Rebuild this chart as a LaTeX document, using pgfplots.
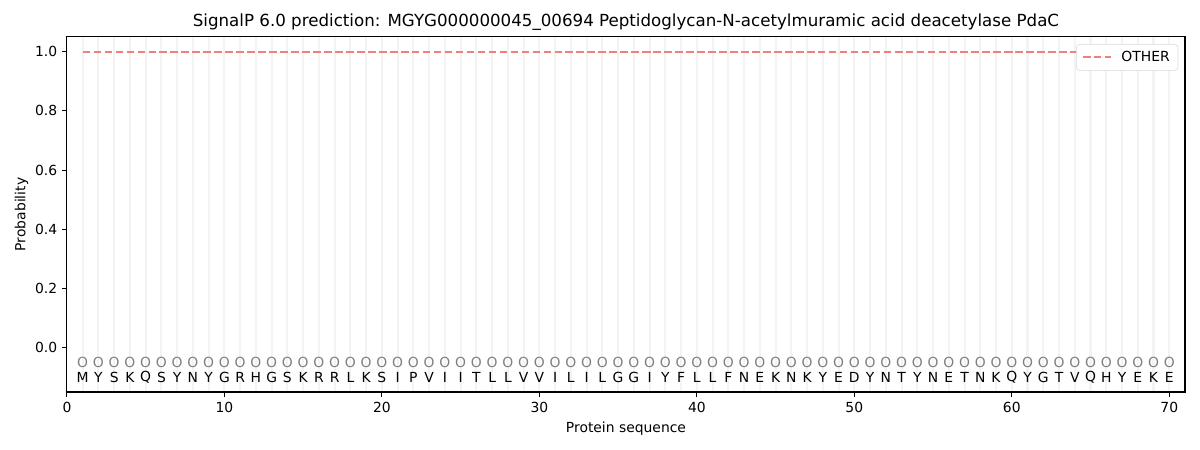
\documentclass[border=0pt]{standalone}
\usepackage{fontspec}
\setmainfont{DejaVu Sans}
\usepackage{pgfplots}
\usepackage{pgfplotstable}
\pgfplotsset{compat=1.18}
\definecolor{otherred}{RGB}{240,128,128}
\definecolor{ogray}{RGB}{128,128,128}
\definecolor{gridgray}{RGB}{243,243,243}
\pgfplotstableread{
x yo ya p aa
1 -0.05 -0.1 1.0 M
2 -0.05 -0.1 1.0 Y
3 -0.05 -0.1 1.0 S
4 -0.05 -0.1 1.0 K
5 -0.05 -0.1 1.0 Q
6 -0.05 -0.1 1.0 S
7 -0.05 -0.1 1.0 Y
8 -0.05 -0.1 1.0 N
9 -0.05 -0.1 1.0 Y
10 -0.05 -0.1 1.0 G
11 -0.05 -0.1 1.0 R
12 -0.05 -0.1 1.0 H
13 -0.05 -0.1 1.0 G
14 -0.05 -0.1 1.0 S
15 -0.05 -0.1 1.0 K
16 -0.05 -0.1 1.0 R
17 -0.05 -0.1 1.0 R
18 -0.05 -0.1 1.0 L
19 -0.05 -0.1 1.0 K
20 -0.05 -0.1 1.0 S
21 -0.05 -0.1 1.0 I
22 -0.05 -0.1 1.0 P
23 -0.05 -0.1 1.0 V
24 -0.05 -0.1 1.0 I
25 -0.05 -0.1 1.0 I
26 -0.05 -0.1 1.0 T
27 -0.05 -0.1 1.0 L
28 -0.05 -0.1 1.0 L
29 -0.05 -0.1 1.0 V
30 -0.05 -0.1 1.0 V
31 -0.05 -0.1 1.0 I
32 -0.05 -0.1 1.0 L
33 -0.05 -0.1 1.0 I
34 -0.05 -0.1 1.0 L
35 -0.05 -0.1 1.0 G
36 -0.05 -0.1 1.0 G
37 -0.05 -0.1 1.0 I
38 -0.05 -0.1 1.0 Y
39 -0.05 -0.1 1.0 F
40 -0.05 -0.1 1.0 L
41 -0.05 -0.1 1.0 L
42 -0.05 -0.1 1.0 F
43 -0.05 -0.1 1.0 N
44 -0.05 -0.1 1.0 E
45 -0.05 -0.1 1.0 K
46 -0.05 -0.1 1.0 N
47 -0.05 -0.1 1.0 K
48 -0.05 -0.1 1.0 Y
49 -0.05 -0.1 1.0 E
50 -0.05 -0.1 1.0 D
51 -0.05 -0.1 1.0 Y
52 -0.05 -0.1 1.0 N
53 -0.05 -0.1 1.0 T
54 -0.05 -0.1 1.0 Y
55 -0.05 -0.1 1.0 N
56 -0.05 -0.1 1.0 E
57 -0.05 -0.1 1.0 T
58 -0.05 -0.1 1.0 N
59 -0.05 -0.1 1.0 K
60 -0.05 -0.1 1.0 Q
61 -0.05 -0.1 1.0 Y
62 -0.05 -0.1 1.0 G
63 -0.05 -0.1 1.0 T
64 -0.05 -0.1 1.0 V
65 -0.05 -0.1 1.0 Q
66 -0.05 -0.1 1.0 H
67 -0.05 -0.1 1.0 Y
68 -0.05 -0.1 1.0 E
69 -0.05 -0.1 1.0 K
70 -0.05 -0.1 1.0 E
}\seq
\begin{document}
\begin{tikzpicture}
\path[use as bounding box] (-48.2bp,-41.8bp) rectangle (815.8bp,282.2bp);
\begin{axis}[
  at={(0,0)}, anchor=south west,
  scale only axis,
  width=805bp, height=255.6bp,
  xmin=0, xmax=71, ymin=-0.15, ymax=1.05,
  xtick={0,10,...,70},
  ytick={0,0.2,...,1.0},
  yticklabel style={/pgf/number format/.cd, fixed, fixed zerofill, precision=1},
  /pgf/number format/assume math mode=true,
  tick align=outside,
  major tick length=3.5bp,
  xtick pos=left, ytick pos=left,
  tick style={black, line width=0.8bp},
  axis line style={line width=0.8bp},
  ticklabel style={font=\fontsize{10bp}{12bp}\selectfont},
  extra x ticks={1,...,70},
  extra x tick labels={},
  extra x tick style={grid=major, major grid style={draw=gridgray, line width=1.5bp}, tick style={draw=none}, major tick length=0pt},
  title={SignalP 6.0 prediction: MGYG000000045\_00694 Peptidoglycan-N-acetylmuramic acid deacetylase PdaC},
  title style={font=\fontsize{12bp}{14bp}\selectfont, yshift=-5bp},
  xlabel={Protein sequence},
  ylabel={Probability},
  label style={font=\fontsize{10bp}{12bp}\selectfont},
  xlabel style={yshift=3bp},
  ylabel style={yshift=-2bp},
  legend style={at={(0.994,0.98)}, anchor=north east, rounded corners=2.5bp, draw=gray!30, font=\fontsize{10bp}{12bp}\selectfont, inner xsep=4bp, inner ysep=3bp},
  legend image code/.code={\draw[#1] (0bp,0bp) -- (20bp,0bp); \path (25bp,0bp);},
  legend cell align=left,
  clip=false,
  after end axis/.code={\draw[black, line width=0.8bp] (rel axis cs:0,0) rectangle (rel axis cs:1,1);},
]
\addplot[draw=otherred, line width=1.5bp, dash pattern=on 5.5bp off 2.4bp] table[x=x, y=p] {\seq};
\addlegendentry{OTHER}
\addplot[draw=none, mark=none, nodes near coords={O}, nodes near coords style={anchor=center, text=ogray, font=\fontsize{10bp}{12bp}\selectfont}, forget plot] table[x=x, y=yo] {\seq};
\addplot[draw=none, mark=none, point meta=explicit symbolic, nodes near coords, nodes near coords style={anchor=center, text=black, font=\fontsize{10bp}{12bp}\selectfont}, forget plot] table[x=x, y=ya, meta=aa] {\seq};
\end{axis}
\end{tikzpicture}
\end{document}
